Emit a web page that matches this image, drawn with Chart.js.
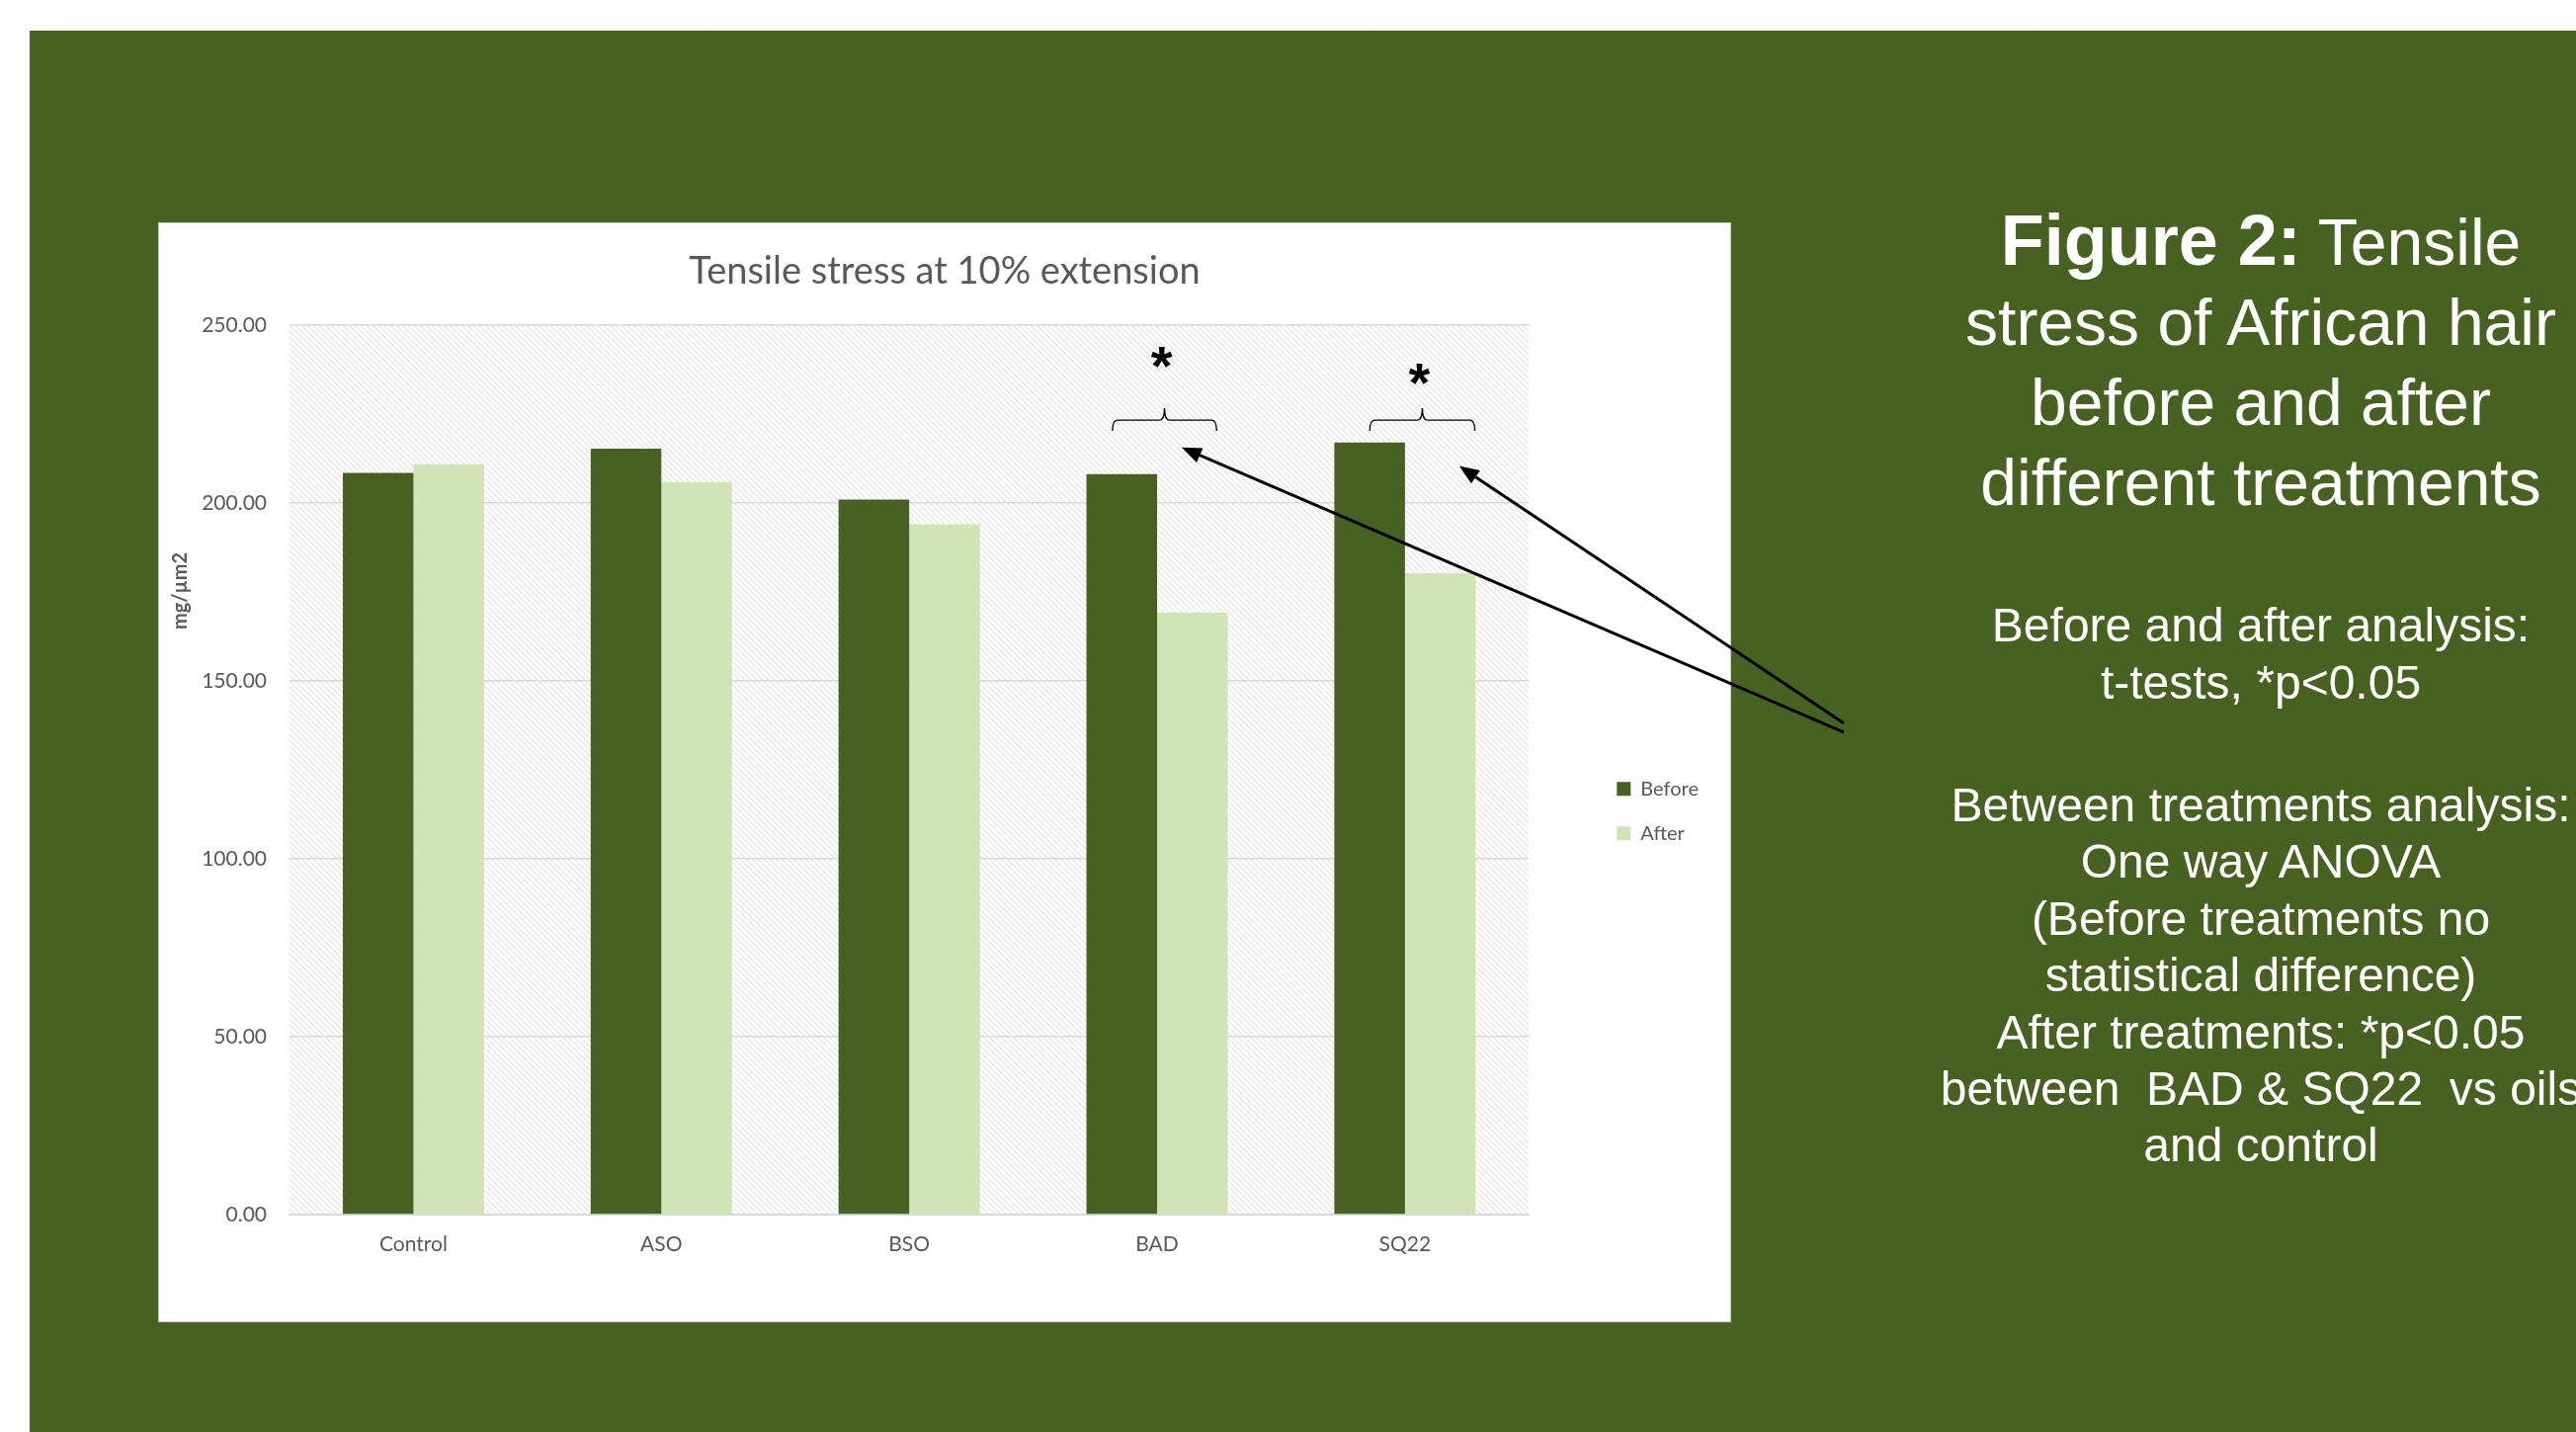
<!DOCTYPE html>
<html lang="en">
<head>
  <meta charset="UTF-8">
  <title>Figure 2 | Tensile stress</title>
  <script src="https://cdn.jsdelivr.net/npm/chart.js"></script>
  <style>
    html, body { margin: 0; padding: 0; background: #fff; overflow: hidden; }
    body { width: 2607px; height: 1449px; position: relative; font-family: "Liberation Sans", Arial, sans-serif; }
    .panel { position: absolute; left: 30px; top: 31px; right: 0; bottom: 0; background: #466120; }
    .chartBox { position: absolute; left: 161px; top: 226px; width: 1590px; height: 1111px; background: #fff; box-shadow: 0 0 0 1px #c9c9c9; }
    #chartWrap { position: absolute; left: 0; top: 0; width: 2607px; height: 1449px; }
    .side { position: absolute; left: 1588px; width: 1400px; text-align: center; color: #fff; white-space: pre; }
    .side.head { top: 203px; font-size: 66px; line-height: 81px; }
    .side.head b { font-size: 72px; }
    .side.p1 { top: 604px; font-size: 48px; line-height: 58px; }
    .side.p2 { top: 786px; font-size: 48px; line-height: 57.4px; }
  </style>
</head>
<body>
  <div class="panel"></div>
  <div class="chartBox"></div>
  <div id="chartWrap"><canvas id="stressChart" width="2607" height="1449"></canvas></div>

  <div class="side head"><b>Figure 2:</b> Tensile
stress of African hair
before and after
different treatments</div>
  <div class="side p1">Before and after analysis:
t-tests, *p&lt;0.05</div>
  <div class="side p2">Between treatments analysis:
One way ANOVA
(Before treatments no
statistical difference)
After treatments: *p&lt;0.05
between  BAD &amp; SQ22  vs oils
and control</div>

  <script>
    const categories = ['Control', 'ASO', 'BSO', 'BAD', 'SQ22'];
    const beforeVals = [208.5, 215.3, 201.0, 208.1, 217.0];
    const afterVals = [210.9, 205.9, 194.0, 169.2, 180.3];
    const yMin = 0, yMax = 250, yStep = 50;

    const darkGreen = '#476123';
    const lightGreen = '#d1e4b6';
    const grey = '#595959';

    // significance markers, in category / value units
    const brackets = [
      { x: 3.03, half: 0.21, y: 223.3, star: 241.1 },
      { x: 4.07, half: 0.212, y: 223.3, star: 236.4 }
    ];
    const arrows = [
      { from: [5.77, 135.6], to: [3.099, 215.6] },
      { from: [5.77, 138.1], to: [4.219, 210.4] }
    ];

    function makeHatch() {
      const s = 6;
      const c = document.createElement('canvas');
      c.width = s; c.height = s;
      const g = c.getContext('2d');
      g.strokeStyle = '#e0e0e0';
      g.lineWidth = 1.2;
      [-s, 0, s].forEach(k => {
        g.beginPath();
        g.moveTo(k - 1, -1);
        g.lineTo(k + s + 1, s + 1);
        g.stroke();
      });
      return c;
    }

    const hatchPlugin = {
      id: 'hatch',
      beforeDraw(chart) {
        const { ctx, chartArea: a } = chart;
        ctx.save();
        ctx.fillStyle = ctx.createPattern(makeHatch(), 'repeat');
        ctx.fillRect(a.left, a.top, a.right - a.left, a.bottom - a.top);
        ctx.restore();
      }
    };

    const notesPlugin = {
      id: 'notes',
      afterDraw(chart) {
        const { ctx } = chart;
        const xs = chart.scales.x, ys = chart.scales.y;
        ctx.save();

        // y axis title
        ctx.translate(183, 598);
        ctx.rotate(-Math.PI / 2);
        ctx.fillStyle = grey;
        ctx.font = 'bold 20px Lato';
        ctx.textAlign = 'center';
        ctx.textBaseline = 'middle';
        ctx.fillText('mg/\u00b5m2', 0, 0);
        ctx.setTransform(1, 0, 0, 1, 0, 0);

        // brackets + stars
        ctx.strokeStyle = '#000';
        ctx.lineWidth = 1.4;
        brackets.forEach(b => {
          const cx = xs.getPixelForValue(b.x);
          const l = xs.getPixelForValue(b.x - b.half);
          const r = xs.getPixelForValue(b.x + b.half);
          const y = ys.getPixelForValue(b.y);
          const yEnd = y + 11, yTop = y - 12, rad = 5;
          ctx.beginPath();
          ctx.moveTo(l, yEnd);
          ctx.quadraticCurveTo(l, y, l + rad, y);
          ctx.lineTo(cx - rad, y);
          ctx.quadraticCurveTo(cx, y, cx, yTop);
          ctx.quadraticCurveTo(cx, y, cx + rad, y);
          ctx.lineTo(r - rad, y);
          ctx.quadraticCurveTo(r, y, r, yEnd);
          ctx.stroke();

          ctx.fillStyle = '#000';
          ctx.font = 'bold 56px "Liberation Sans"';
          ctx.textAlign = 'center';
          ctx.textBaseline = 'middle';
          ctx.fillText('*', cx - 3, ys.getPixelForValue(b.star) + 13);
        });

        // arrows
        ctx.lineWidth = 3;
        arrows.forEach(a => {
          const x0 = xs.getPixelForValue(a.from[0]), y0 = ys.getPixelForValue(a.from[1]);
          const x1 = xs.getPixelForValue(a.to[0]), y1 = ys.getPixelForValue(a.to[1]);
          const ang = Math.atan2(y1 - y0, x1 - x0);
          const len = 20, w = 8;
          const bx = x1 - len * Math.cos(ang), by = y1 - len * Math.sin(ang);
          ctx.beginPath();
          ctx.moveTo(x0, y0);
          ctx.lineTo(bx, by);
          ctx.stroke();
          ctx.beginPath();
          ctx.moveTo(x1, y1);
          ctx.lineTo(bx + w * Math.sin(ang), by - w * Math.cos(ang));
          ctx.lineTo(bx - w * Math.sin(ang), by + w * Math.cos(ang));
          ctx.closePath();
          ctx.fill();
        });
        ctx.restore();
      }
    };

    new Chart(document.getElementById('stressChart'), {
      type: 'bar',
      data: {
        labels: categories,
        datasets: [
          { label: 'Before', data: beforeVals, backgroundColor: darkGreen, borderWidth: 0 },
          { label: 'After', data: afterVals, backgroundColor: lightGreen, borderWidth: 0 }
        ]
      },
      options: {
        responsive: false,
        animation: false,
        events: [],
        layout: { padding: { left: 183, top: 226, right: 878, bottom: 112 } },
        datasets: { bar: { categoryPercentage: 0.57, barPercentage: 1.0 } },
        plugins: {
          title: {
            display: true,
            text: 'Tensile stress at 10% extension',
            color: grey,
            font: { family: 'Lato', size: 38, weight: 'normal' },
            padding: { top: 26, bottom: 31.4 }
          },
          legend: {
            position: 'right',
            align: 'center',
            title: { display: true, text: ' ', font: { size: 12 }, padding: { top: 0, bottom: 64 } },
            labels: {
              boxWidth: 14, boxHeight: 14, padding: 25,
              color: grey,
              font: { family: 'Lato', size: 20 }
            }
          },
          tooltip: { enabled: false }
        },
        scales: {
          x: {
            grid: { display: false, drawTicks: false },
            border: { display: true, color: '#d9d9d9', width: 2 },
            ticks: { color: grey, font: { family: 'Lato', size: 21 }, padding: 18 },
            afterFit(s) { s.height = 108; }
          },
          y: {
            min: yMin, max: yMax,
            ticks: {
              stepSize: yStep, color: grey, padding: 23,
              font: { family: 'Lato', size: 21 },
              callback: v => v.toFixed(2)
            },
            grid: { color: '#d9d9d9', lineWidth: 1.5, drawTicks: false },
            border: { display: false },
            afterFit(s) { s.width = 110; }
          },
          gap: {
            type: 'linear',
            position: 'right',
            grid: { display: false },
            ticks: { display: false },
            border: { display: false },
            afterFit(s) { s.width = 64; }
          }
        }
      },
      plugins: [hatchPlugin, notesPlugin]
    });
  </script>
</body>
</html>
